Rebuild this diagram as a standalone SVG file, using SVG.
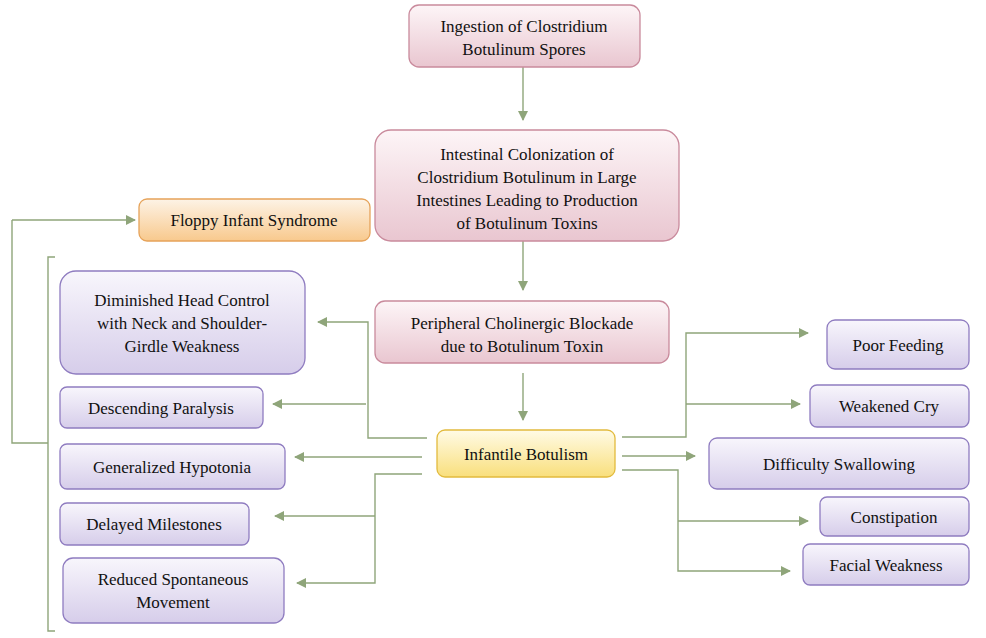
<svg xmlns="http://www.w3.org/2000/svg" width="986" height="638" viewBox="0 0 986 638">
<defs>
<linearGradient id="gp" x1="0" y1="0" x2="0" y2="1"><stop offset="0" stop-color="#fdf5f7"/><stop offset="1" stop-color="#e9c6d0"/></linearGradient>
<linearGradient id="gv" x1="0" y1="0" x2="0" y2="1"><stop offset="0" stop-color="#f8f6fc"/><stop offset="1" stop-color="#d6cdea"/></linearGradient>
<linearGradient id="go" x1="0" y1="0" x2="0" y2="1"><stop offset="0" stop-color="#fdf3e6"/><stop offset="1" stop-color="#f8c98d"/></linearGradient>
<linearGradient id="gy" x1="0" y1="0" x2="0" y2="1"><stop offset="0" stop-color="#fffbe6"/><stop offset="1" stop-color="#f9df7c"/></linearGradient>
<marker id="ar" markerWidth="10" markerHeight="10" refX="9" refY="5" orient="auto" markerUnits="userSpaceOnUse"><path d="M0,0 L10,5 L0,10 z" fill="#8fa57a"/></marker>
<style>
.p{fill:url(#gp);stroke:#c98a9c;stroke-width:1.3}
.v{fill:url(#gv);stroke:#8f7cc0;stroke-width:1.3}
.o{fill:url(#go);stroke:#e6a35a;stroke-width:1.3}
.y{fill:url(#gy);stroke:#e2bb3e;stroke-width:1.3}
text{font-family:"Liberation Serif","Times New Roman",serif;font-size:17px;fill:#111;text-anchor:middle}
.c{fill:none;stroke:#8fa57a;stroke-width:1.4}
.a{marker-end:url(#ar)}
</style>
</defs>
<g id="connectors">
<path class="c a" d="M523,67 V120"/>
<path class="c a" d="M523,241 V290"/>
<path class="c a" d="M523,373 V420"/>
<path class="c" d="M55,257 H48 V631 H55"/>
<path class="c" d="M48,443 H12 V220"/>
<path class="c a" d="M12,220 H135"/>
<path class="c a" d="M427,438 H368 V322 H318"/>
<path class="c a" d="M366,404 H273"/>
<path class="c a" d="M422,457 H295"/>
<path class="c a" d="M422,474 H375 V583 H297"/>
<path class="c a" d="M375,516 H275"/>
<path class="c a" d="M622,437 H686 V333 H808"/>
<path class="c a" d="M686,404 H800"/>
<path class="c a" d="M622,456 H695"/>
<path class="c a" d="M622,470 H678 V571 H790"/>
<path class="c a" d="M678,521 H808"/>
</g>
<g id="n1"><rect class="p" x="409" y="5" width="231" height="62" rx="10"/><text x="524" y="32">Ingestion of Clostridium</text><text x="524" y="55">Botulinum Spores</text></g>
<g id="n2"><rect class="p" x="375" y="130" width="304" height="111" rx="16"/><text x="527" y="160">Intestinal Colonization of</text><text x="527" y="183">Clostridium Botulinum in Large</text><text x="527" y="206">Intestines Leading to Production</text><text x="527" y="229">of Botulinum Toxins</text></g>
<g id="n3"><rect class="o" x="139" y="199" width="231" height="42" rx="8"/><text x="254" y="226">Floppy Infant Syndrome</text></g>
<g id="n4"><rect class="p" x="375" y="301" width="294" height="62" rx="10"/><text x="522" y="329">Peripheral Cholinergic Blockade</text><text x="522" y="352">due to Botulinum Toxin</text></g>
<g id="n5"><rect class="y" x="437" y="430" width="178" height="47" rx="8"/><text x="526" y="460">Infantile Botulism</text></g>
<g id="n6"><rect class="v" x="60" y="271" width="245" height="103" rx="16"/><text x="182" y="306">Diminished Head Control</text><text x="182" y="329">with Neck and Shoulder-</text><text x="182" y="352">Girdle Weakness</text></g>
<g id="n7"><rect class="v" x="60" y="387" width="203" height="41" rx="7"/><text x="161" y="414">Descending Paralysis</text></g>
<g id="n8"><rect class="v" x="60" y="444" width="225" height="45" rx="7"/><text x="172" y="473">Generalized Hypotonia</text></g>
<g id="n9"><rect class="v" x="60" y="503" width="189" height="42" rx="7"/><text x="154" y="530">Delayed Milestones</text></g>
<g id="n10"><rect class="v" x="63" y="558" width="221" height="65" rx="10"/><text x="173" y="585">Reduced Spontaneous</text><text x="173" y="608">Movement</text></g>
<g id="n11"><rect class="v" x="827" y="320" width="142" height="49" rx="8"/><text x="898" y="351">Poor Feeding</text></g>
<g id="n12"><rect class="v" x="810" y="385" width="159" height="42" rx="7"/><text x="889" y="412">Weakened Cry</text></g>
<g id="n13"><rect class="v" x="709" y="438" width="260" height="51" rx="8"/><text x="839" y="470">Difficulty Swallowing</text></g>
<g id="n14"><rect class="v" x="820" y="497" width="149" height="39" rx="7"/><text x="894" y="523">Constipation</text></g>
<g id="n15"><rect class="v" x="803" y="544" width="166" height="41" rx="7"/><text x="886" y="571">Facial Weakness</text></g>
</svg>
